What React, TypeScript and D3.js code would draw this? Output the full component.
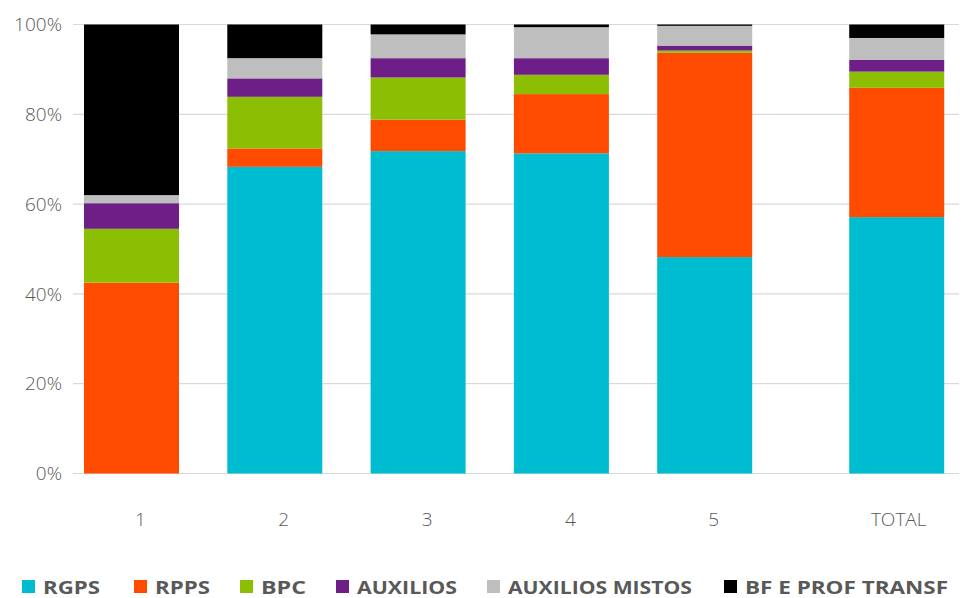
import React from "react";
import * as d3 from "d3";

const categories = ["1", "2", "3", "4", "5", "TOTAL"];
const seriesNames = ["RGPS", "RPPS", "BPC", "AUXILIOS", "AUXILIOS MISTOS", "BF E PROF TRANSF"];
const RGPS = [0, 68.3, 71.8, 71.3, 48.2, 57.1];
const RPPS = [42.5, 4.1, 7.0, 13.2, 45.5, 28.8];
const BPC = [12.0, 11.5, 9.4, 4.3, 0.5, 3.6];
const AUXILIOS = [5.7, 4.1, 4.3, 3.7, 1.1, 2.6];
const AUXILIOS_MISTOS = [1.8, 4.5, 5.3, 6.9, 4.4, 4.9];
const BF_E_PROF_TRANSF = [38.0, 7.5, 2.2, 0.6, 0.3, 3.0];
const yTicks = [0, 20, 40, 60, 80, 100];

const seriesValues = [RGPS, RPPS, BPC, AUXILIOS, AUXILIOS_MISTOS, BF_E_PROF_TRANSF];
const colors = ["#00BCD0", "#FF4B00", "#8CBE04", "#6E1E87", "#BEBEBE", "#000000"];

const W = 963;
const H = 598;
const TEXT = "#595959";

export default function App() {
  const rows = categories.map((c, i) => {
    const r: any = { cat: c };
    seriesNames.forEach((s, j) => (r[s] = seriesValues[j][i]));
    return r;
  });
  const stacked = d3.stack<any>().keys(seriesNames)(rows);

  const y = d3.scaleLinear().domain([0, 100]).range([473.5, 24.5]);
  const slot = d3.scaleLinear().domain([0, 1]).range([131.5, 274.8]);
  const slotIndex = (i: number) => i + (categories[i] === "TOTAL" ? 0.34 : 0);
  const barW = 95;

  const legendX = [22, 134, 240, 336, 487, 724];
  const legendW = [57, 55, 45, 100, 184, 203];

  return (
    <svg
      width={W}
      height={H}
      style={{ position: "absolute", left: 0, top: 0, background: "#fff" }}
      fontFamily="'Open Sans', Lato, sans-serif"
    >
      {yTicks.map((t) => (
        <g key={t}>
          <line x1={73} x2={959} y1={y(t)} y2={y(t)} stroke="#D9D9D9" strokeWidth={1.2} />
          <text x={62} y={y(t)} dy="0.35em" textAnchor="end" fontSize={19} fill={TEXT} fontWeight={300}>
            {t}%
          </text>
        </g>
      ))}
      {stacked.map((layer, j) => (
        <g key={layer.key} fill={colors[j]}>
          {layer.map((d, i) => {
            const h = y(d[0]) - y(d[1]);
            if (h <= 0) return null;
            return (
              <rect
                key={i}
                x={slot(slotIndex(i)) - barW / 2}
                y={y(d[1])}
                width={barW}
                height={h}
              />
            );
          })}
        </g>
      ))}
      {categories.map((c, i) => (
        <text
          key={c}
          x={slot(slotIndex(i)) + (c === "TOTAL" ? 2 : 9)}
          y={526}
          textAnchor="middle"
          fontSize={19}
          fill={TEXT}
          fontWeight={300}
        >
          {c}
        </text>
      ))}
      {seriesNames.map((s, j) => (
        <g key={s}>
          <rect x={legendX[j]} y={580} width={13} height={13} fill={colors[j]} />
          <text
            x={legendX[j] + 21}
            y={593.5}
            fontSize={18.5}
            fontWeight={700}
            fill={TEXT}
            textLength={legendW[j]}
            lengthAdjust="spacingAndGlyphs"
          >
            {s}
          </text>
        </g>
      ))}
    </svg>
  );
}
